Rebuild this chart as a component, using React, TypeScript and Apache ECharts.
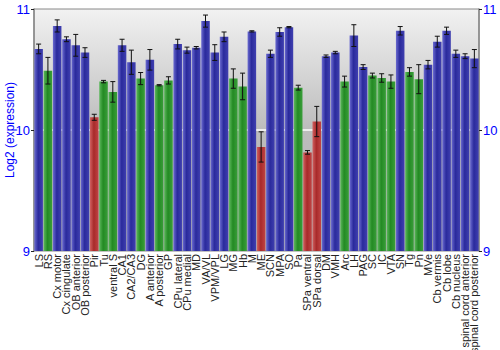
import React, { useEffect, useRef } from "react";
import * as echarts from "echarts";

const categories = [
  "LS", "RS", "Cx motor", "Cx cingulate", "OB anterior", "OB posterior", "Pir", "Tu",
  "ventral S", "CA1", "CA2/CA3", "DG", "A anterior", "A posterior", "GP", "CPu lateral",
  "CPu medial", "MD", "VA/VL", "VPM/VPL", "LG", "MG", "Hb", "M", "ME", "SCN", "MPA", "SO",
  "Pa", "SPa ventral", "SPa dorsal", "DM", "VMH", "Arc", "LH", "PAG", "SC", "IC", "VTA",
  "SN", "Tg", "Pn", "MVe", "Cb vermis", "Cb lobe", "Cb nucleus", "spinal cord anterior",
  "spinal cord posterior",
];

const values = [
  10.67, 10.49, 10.86, 10.75, 10.70, 10.64, 10.105, 10.40,
  10.315, 10.70, 10.56, 10.425, 10.58, 10.37, 10.41, 10.71,
  10.66, 10.68, 10.90, 10.64, 10.77, 10.425, 10.36, 10.815, 9.86, 10.63, 10.81, 10.85,
  10.35, 9.815, 10.07, 10.61, 10.64, 10.40, 10.78, 10.52, 10.45, 10.43, 10.40,
  10.82, 10.48, 10.42, 10.54, 10.73, 10.82, 10.63, 10.61,
  10.59,
];

const errors = [
  0.04, 0.11, 0.05, 0.02, 0.09, 0.04, 0.025, 0.01,
  0.085, 0.05, 0.1, 0.05, 0.085, 0.005, 0.03, 0.04,
  0.025, 0.01, 0.05, 0.065, 0.04, 0.08, 0.11, 0.005, 0.125, 0.03, 0.035, 0.005,
  0.02, 0.015, 0.125, 0.01, 0.01, 0.045, 0.09, 0.02, 0.02, 0.035, 0.055,
  0.035, 0.035, 0.12, 0.035, 0.045, 0.03, 0.03, 0.02,
  0.075,
];

// b = blue, g = green, r = red
const groups = [
  "b", "g", "b", "b", "b", "b", "r", "g",
  "g", "b", "b", "g", "b", "g", "g", "b",
  "b", "b", "b", "b", "b", "g", "g", "b", "r", "b", "b", "b",
  "g", "r", "r", "b", "b", "g", "b", "b", "g", "g", "g",
  "b", "g", "g", "b", "b", "b", "b", "b",
  "b",
];

const yTicks = [9, 10, 11];

const palette: Record<string, [string, string, string]> = {
  b: ["#6a6ad0", "#2a2a9c", "#4040b0"],
  g: ["#5cb85c", "#238a23", "#3a9e3a"],
  r: ["#d06060", "#a82a2a", "#c04444"],
};

function barColor(g: string) {
  const [l, m, r] = palette[g];
  return new echarts.graphic.LinearGradient(0, 0, 1, 0, [
    { offset: 0, color: l },
    { offset: 0.45, color: m },
    { offset: 1, color: r },
  ]);
}

export default function App() {
  const ref = useRef<HTMLDivElement>(null);
  useEffect(() => {
    if (!ref.current) return;
    const chart = echarts.init(ref.current, undefined, { renderer: "svg" });
    const font = "Liberation Sans";
    const yAxisCommon = {
      type: "value" as const,
      min: 9,
      max: 11,
      interval: 1,
      axisLine: { show: true, lineStyle: { color: "#888", width: 1.5 } },
      axisTick: { show: true, length: 3, lineStyle: { color: "#222" } },
      axisLabel: {
        color: "#0000ff",
        fontSize: 13,
        fontFamily: font,
        margin: 4,
        formatter: (v: number) => (yTicks.includes(v) ? String(v) : ""),
      },
    };
    chart.setOption({
      animation: false,
      textStyle: { fontFamily: font },
      grid: {
        left: 34,
        right: 21,
        top: 9,
        bottom: 99,
        outerBoundsMode: "none",
        containLabel: false,
        show: true,
        borderColor: "#888",
        borderWidth: 1,
        backgroundColor: new echarts.graphic.LinearGradient(0, 0, 0, 1, [
          { offset: 0, color: "#f2f2f2" },
          { offset: 0.5, color: "#bcbcbc" },
          { offset: 1, color: "#b4b4b4" },
        ]),
      },
      xAxis: {
        type: "category",
        data: categories,
        axisLine: { show: false },
        axisTick: { show: false },
        axisLabel: {
          rotate: 90,
          interval: 0,
          fontSize: 11,
          color: "#222",
          fontFamily: font,
          margin: 3,
        },
      },
      yAxis: [
        {
          ...yAxisCommon,
          position: "left",
          name: "Log2 (expression)",
          nameLocation: "middle",
          nameGap: 18,
          nameMoveOverlap: false,
          nameTextStyle: { color: "#0000ff", fontSize: 12, fontFamily: font },
          splitLine: {
            show: true,
            lineStyle: { color: ["transparent", "#ffffff", "transparent"], width: 1.5 },
          },
        },
        {
          ...yAxisCommon,
          position: "right",
          splitLine: { show: false },
        },
      ],
      series: [
        {
          type: "bar",
          barCategoryGap: "8%",
          data: values.map((v, i) => ({
            value: v,
            itemStyle: { color: barColor(groups[i]) },
          })),
        },
        {
          type: "custom",
          data: values.map((v, i) => [i, v - errors[i], v + errors[i]]),
          z: 10,
          renderItem: (params: any, api: any) => {
            const x = api.value(0);
            const lo = api.coord([x, api.value(1)]);
            const hi = api.coord([x, api.value(2)]);
            const hw = 2.5;
            const style = { stroke: "#111", lineWidth: 1 };
            return {
              type: "group",
              children: [
                { type: "line", shape: { x1: lo[0], y1: lo[1], x2: hi[0], y2: hi[1] }, style },
                { type: "line", shape: { x1: lo[0] - hw, y1: lo[1], x2: lo[0] + hw, y2: lo[1] }, style },
                { type: "line", shape: { x1: hi[0] - hw, y1: hi[1], x2: hi[0] + hw, y2: hi[1] }, style },
              ],
            };
          },
        },
      ],
    });
    return () => chart.dispose();
  }, []);
  return (
    <div
      ref={ref}
      style={{ position: "absolute", left: 0, top: 0, width: 500, height: 350 }}
    />
  );
}
